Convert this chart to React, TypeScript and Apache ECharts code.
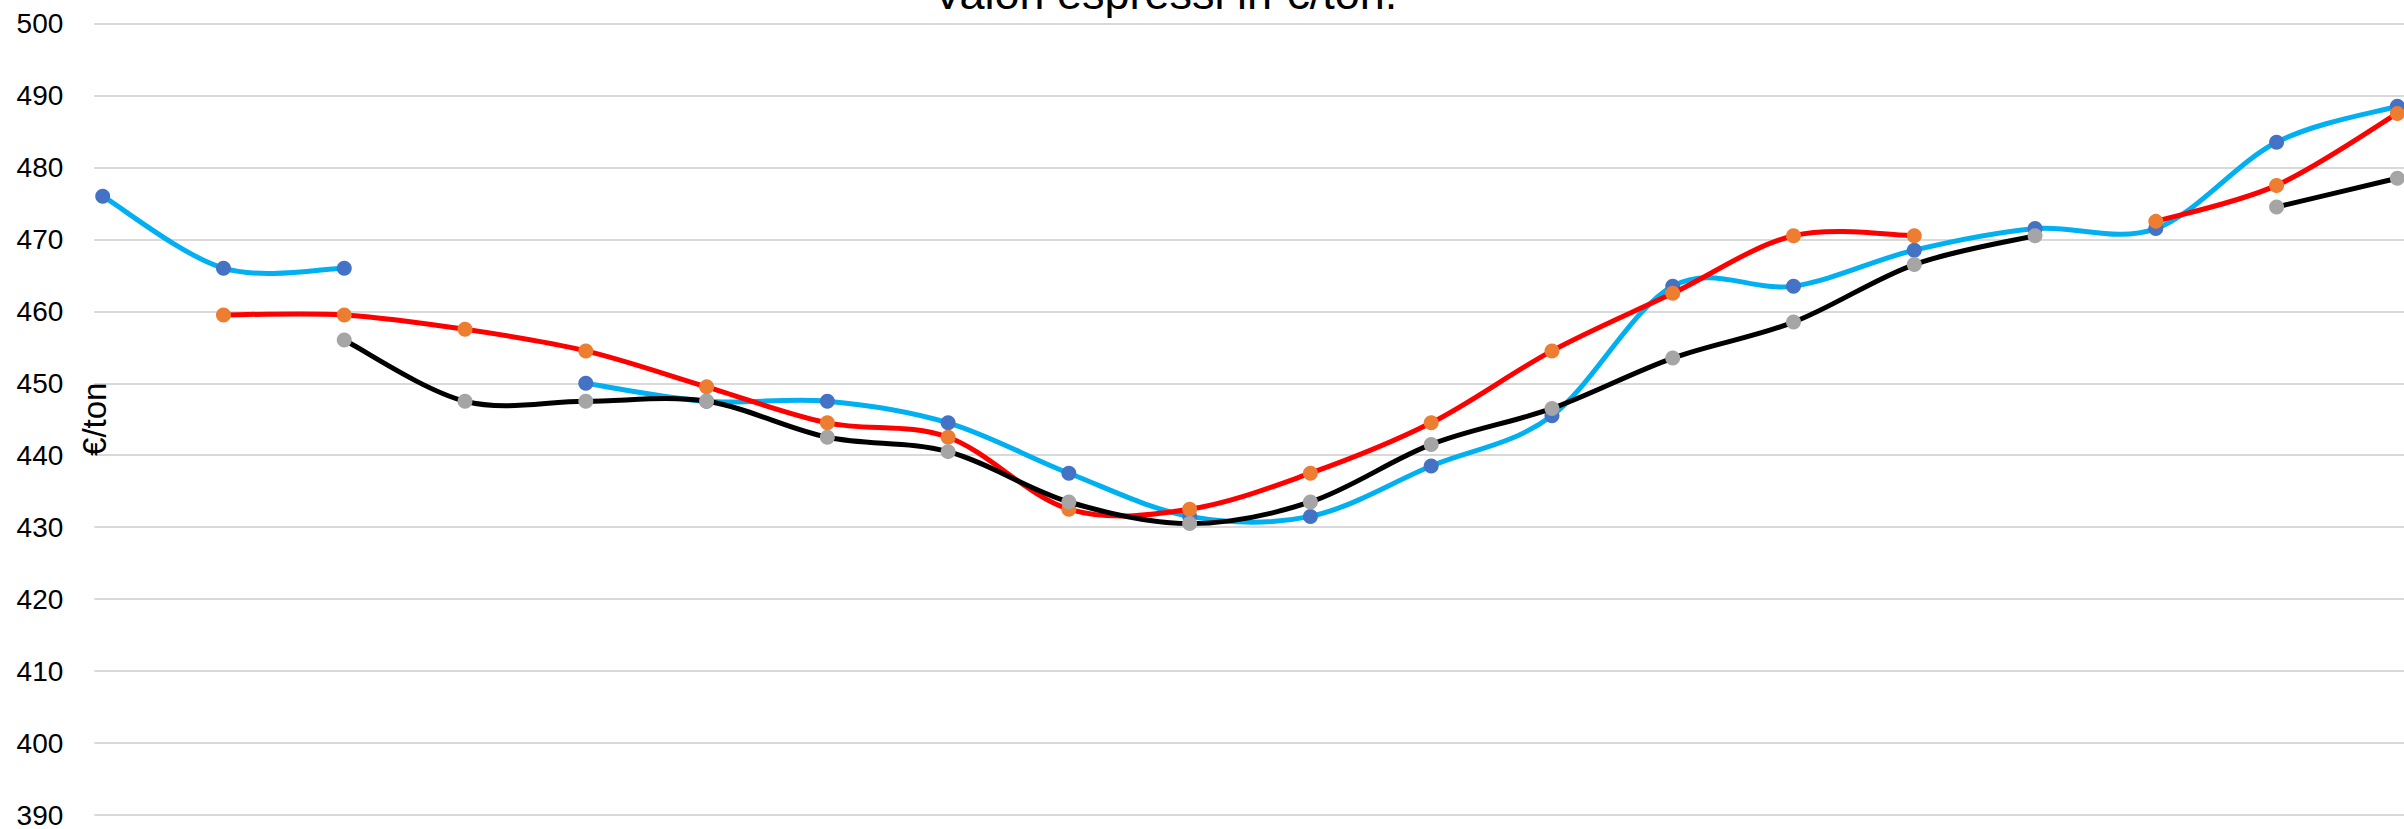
import React, { useEffect, useRef } from "react";
import * as echarts from "echarts";

// Posizioni (indice del punto) lungo l'asse orizzontale
const xIndex = [0, 1, 2, 3, 4, 5, 6, 7, 8, 9, 10, 11, 12, 13, 14, 15, 16, 17, 18, 19];

// Valori (€/ton); null = punto mancante
const serieBlu = [476, 466, 466, null, 450, 447.5, 447.5, 444.5, 437.5, 431.5, 431.5, 438.5, 445.5, 463.5, 463.5, 468.5, 471.5, 471.5, 483.5, 488.5];
const serieRossa = [null, 459.5, 459.5, 457.5, 454.5, 449.5, 444.5, 442.5, 432.5, 432.5, 437.5, 444.5, 454.5, 462.5, 470.5, 470.5, null, 472.5, 477.5, 487.5];
const serieNera = [null, null, 456, 447.5, 447.5, 447.5, 442.5, 440.5, 433.5, 430.5, 433.5, 441.5, 446.5, 453.5, 458.5, 466.5, 470.5, null, 474.5, 478.5];

const titleText = "Valori espressi in €/ton.";
const yAxisName = "€/ton";

const FONT = "'Liberation Sans', Arial, sans-serif";

function pairs(values: (number | null)[]) {
  return xIndex.map((x, i) => [x, values[i] === null ? "-" : values[i]]);
}

// Curva smussata (stile Excel, Catmull-Rom -> Bézier) disegnata con le coordinate dell'asse
function curveSeries(name: string, values: (number | null)[], color: string, width: number, z: number) {
  const n = values.length;
  return {
    name: name + " (linea)",
    type: "custom",
    z,
    silent: true,
    data: xIndex.map((x) => [x, 440]),
    encode: { x: 0, y: 1 },
    renderItem: (params: any, api: any) => {
      const i = params.dataIndex;
      if (i + 1 >= n || values[i] === null || values[i + 1] === null) return null;
      const p1 = api.coord([xIndex[i], values[i]]);
      const p2 = api.coord([xIndex[i + 1], values[i + 1]]);
      const p0 = i - 1 >= 0 && values[i - 1] !== null ? api.coord([xIndex[i - 1], values[i - 1]]) : p1;
      const p3 = i + 2 < n && values[i + 2] !== null ? api.coord([xIndex[i + 2], values[i + 2]]) : p2;
      const t = 1 / 6;
      return {
        type: "bezierCurve",
        shape: {
          x1: p1[0],
          y1: p1[1],
          x2: p2[0],
          y2: p2[1],
          cpx1: p1[0] + (p2[0] - p0[0]) * t,
          cpy1: p1[1] + (p2[1] - p0[1]) * t,
          cpx2: p2[0] - (p3[0] - p1[0]) * t,
          cpy2: p2[1] - (p3[1] - p1[1]) * t,
        },
        style: { stroke: color, lineWidth: width, fill: null, lineCap: "round" },
        silent: true,
      };
    },
  };
}

function markerSeries(name: string, values: (number | null)[], color: string, z: number) {
  return {
    name,
    type: "line",
    z,
    data: pairs(values),
    connectNulls: false,
    symbol: "circle",
    symbolSize: 15,
    showAllSymbol: true,
    lineStyle: { width: 0, opacity: 0 },
    itemStyle: { color, borderWidth: 0 },
    emphasis: { disabled: true },
  };
}

export default function App() {
  const ref = useRef<HTMLDivElement>(null);

  useEffect(() => {
    if (!ref.current) return;
    const chart = echarts.init(ref.current, undefined, { renderer: "svg" });

    chart.setOption({
      animation: false,
      backgroundColor: "#ffffff",
      graphic: [
        {
          type: "text",
          x: 1165,
          y: -7,
          style: {
            text: titleText,
            font: `45px ${FONT}`,
            fill: "#000000",
            align: "center",
            verticalAlign: "middle",
          },
        },
      ],
      grid: { left: 94.3, right: 0, top: 23.5, bottom: 11.3, containLabel: false },
      xAxis: {
        type: "value",
        min: -0.0696,
        max: 19.055,
        show: false,
        splitLine: { show: false },
      },
      yAxis: {
        type: "value",
        min: 390,
        max: 500,
        interval: 10,
        name: yAxisName,
        nameLocation: "middle",
        nameRotate: 90,
        nameGap: -17,
        nameMoveOverlap: false,
        nameTextStyle: { fontFamily: FONT, fontSize: 33, color: "#000000" },
        axisLine: { show: false },
        axisTick: { show: false },
        axisLabel: { fontFamily: FONT, fontSize: 28, color: "#000000", margin: 31 },
        splitLine: { lineStyle: { color: "#d9d9d9", width: 2 } },
      },
      series: [
        curveSeries("Serie 1", serieBlu, "#00B0F0", 5, 2),
        markerSeries("Serie 1", serieBlu, "#4472C4", 3),
        curveSeries("Serie 2", serieRossa, "#FF0000", 5, 4),
        markerSeries("Serie 2", serieRossa, "#ED7D31", 5),
        curveSeries("Serie 3", serieNera, "#000000", 5, 6),
        markerSeries("Serie 3", serieNera, "#A5A5A5", 7),
      ],
    });

    return () => chart.dispose();
  }, []);

  return (
    <div
      ref={ref}
      style={{ position: "absolute", left: 0, top: 0, width: 2404, height: 829, background: "#fff" }}
    />
  );
}
